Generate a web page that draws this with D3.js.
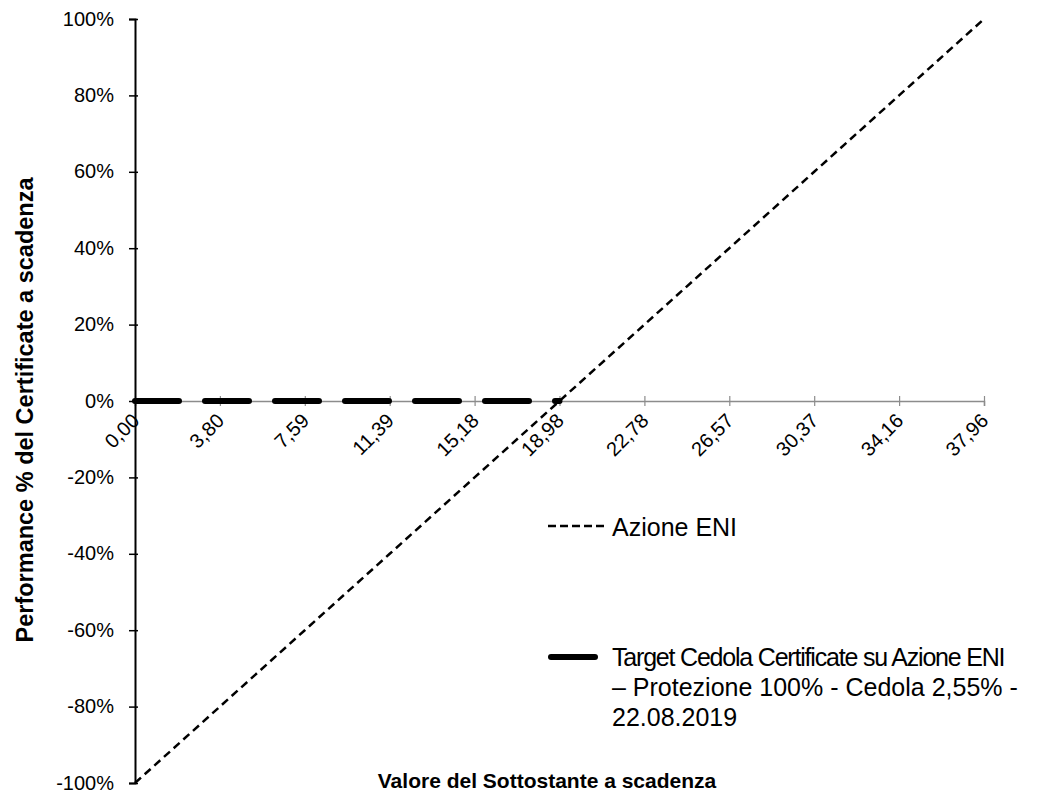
<!DOCTYPE html>
<html>
<head>
<meta charset="utf-8">
<script src="https://cdn.jsdelivr.net/npm/d3@7"></script>
<style>
    body { margin: 0; background: #fff; }
    text { font-family: "Liberation Sans", Arial, sans-serif; fill: #000; }
</style>
</head>
<body>
<div id="chart"></div>
<script>

// x categories (underlying price at maturity)
var priceLabels = ["0,00", "3,80", "7,59", "11,39", "15,18", "18,98", "22,78", "26,57", "30,37", "34,16", "37,96"];
// stock performance, one per category
var azioneValues = [-1.0, -0.8, -0.6, -0.4, -0.2, 0.0, 0.2, 0.4, 0.6, 0.8, 1.0];
// certificate performance, only up to 18,98
var certificateValues = [0, 0, 0, 0, 0, 0];
var yTicks = [-1.0, -0.8, -0.6, -0.4, -0.2, 0.0, 0.2, 0.4, 0.6, 0.8, 1.0];

var seriesNames = ["Azione ENI", "Target Cedola Certificate su Azione ENI – Protezione 100% - Cedola 2,55% - 22.08.2019"];

function drawChart() {

    var width = 1060, height = 791;

    var svg = d3.select("#chart").append("svg")
        .attr("width", width)
        .attr("height", height);

    // Scales: category axis + percent axis
    var xScale = d3.scalePoint()
        .domain(priceLabels)
        .range([135, 984]);

    var yScale = d3.scaleLinear()
        .domain([-1, 1])
        .range([783, 19]);

    // ----- Y AXIS -----
    var yAxis = d3.axisLeft(yScale)
        .tickValues(yTicks)
        .tickSize(6)
        .tickPadding(15)
        .tickFormat(function(d) { return Math.round(d * 100) + "%"; });

    var yAxisG = svg.append("g")
        .attr("class", "y axis")
        .attr("transform", "translate(" + xScale("0,00") + ",0)")
        .call(yAxis);

    yAxisG.select(".domain").attr("stroke", "#000").attr("stroke-width", 2);
    yAxisG.selectAll(".tick line")
        .attr("stroke", "#000")
        .attr("stroke-width", 1.5)
        .attr("x1", 3);
    yAxisG.selectAll(".tick text")
        .style("font-size", "20px")
        .style("font-family", "'Liberation Sans', Arial, sans-serif")
        .attr("dy", "0.3em");

    // ----- X AXIS (sits on 0%) -----
    var xAxis = d3.axisBottom(xScale)
        .tickSize(5);

    var xAxisG = svg.append("g")
        .attr("class", "x axis")
        .attr("transform", "translate(0," + yScale(0) + ")")
        .call(xAxis);

    xAxisG.select(".domain").attr("stroke", "#8c8c8c").attr("stroke-width", 1.5);
    xAxisG.selectAll(".tick line")
        .attr("stroke", "#8c8c8c")
        .attr("stroke-width", 1.2)
        .attr("y1", -5);
    xAxisG.selectAll(".tick text")
        .style("font-size", "20px")
        .style("font-family", "'Liberation Sans', Arial, sans-serif")
        .style("text-anchor", "end")
        .attr("y", 0)
        .attr("dy", 0)
        .attr("transform", "translate(5,21) rotate(-45)");

    // keep the y axis line on top of the x domain
    yAxisG.raise();

    // ----- LINES -----
    var line = d3.line()
        .x(function(d, i) { return xScale(priceLabels[i]); })
        .y(function(d) { return yScale(d); });

    svg.append("path")
        .datum(certificateValues)
        .attr("fill", "none")
        .attr("stroke", "#000")
        .attr("stroke-width", 6)
        .attr("stroke-linecap", "round")
        .attr("stroke-dasharray", "44,26")
        .attr("d", line);

    svg.append("path")
        .datum(azioneValues)
        .attr("fill", "none")
        .attr("stroke", "#000")
        .attr("stroke-width", 2.5)
        .attr("stroke-dasharray", "8,5")
        .attr("d", line);

    // ----- LEGEND -----
    var legend = svg.append("g").attr("class", "legend");

    legend.append("line")
        .attr("x1", 548).attr("x2", 605)
        .attr("y1", 526).attr("y2", 526)
        .attr("stroke", "#000")
        .attr("stroke-width", 2.5)
        .attr("stroke-dasharray", "8,4");

    legend.append("text")
        .attr("x", 612)
        .attr("y", 536)
        .style("font-size", "25px")
        .text(seriesNames[0]);

    legend.append("line")
        .attr("x1", 551).attr("x2", 595)
        .attr("y1", 657).attr("y2", 657)
        .attr("stroke", "#000")
        .attr("stroke-width", 6)
        .attr("stroke-linecap", "round");

    var legendLines = ["Target Cedola Certificate su Azione ENI", "– Protezione 100% - Cedola 2,55% -", "22.08.2019"];
    legend.append("text")
        .attr("x", 612)
        .attr("y", 666)
        .style("font-size", "25px")
        .selectAll("tspan")
        .data(legendLines)
        .enter()
        .append("tspan")
        .attr("x", 612)
        .attr("dy", function(d, i) { return i === 0 ? 0 : 30; })
        .style("letter-spacing", function(d, i) { return i === 0 ? "-1.2px" : "0px"; })
        .text(function(d) { return d; });

    // ----- AXIS TITLES -----
    svg.append("text")
        .attr("transform", "translate(33,410) rotate(-90)")
        .style("text-anchor", "middle")
        .style("font-size", "23.5px")
        .style("font-weight", "bold")
        .text("Performance % del Certificate a scadenza");

    svg.append("text")
        .attr("x", 547)
        .attr("y", 788)
        .style("text-anchor", "middle")
        .style("font-size", "21px")
        .style("font-weight", "bold")
        .text("Valore del Sottostante a scadenza");
}

drawChart();
</script>
</body>
</html>
